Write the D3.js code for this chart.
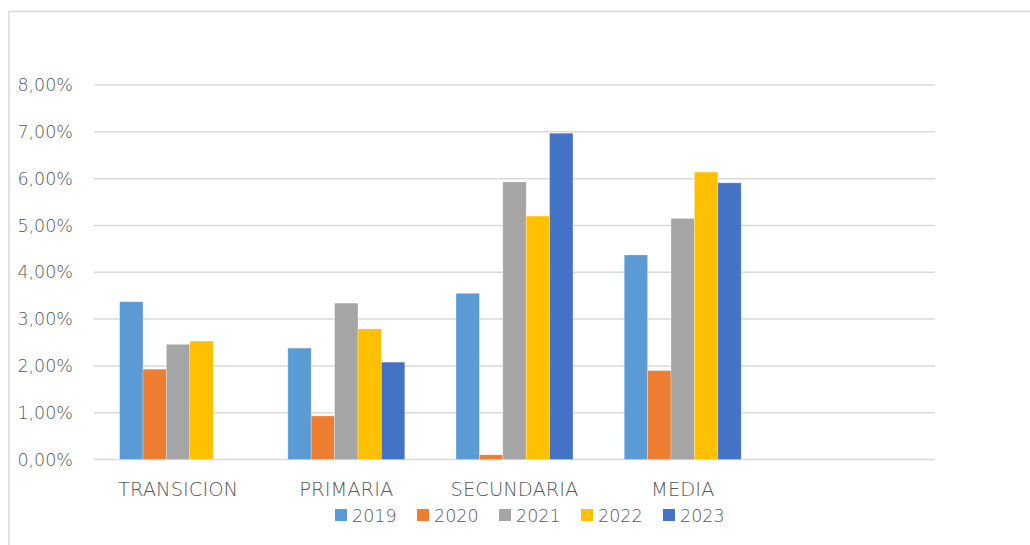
<!DOCTYPE html>
<html>
<head>
<meta charset="utf-8">
<script src="https://cdn.jsdelivr.net/npm/d3@7"></script>
<style>
  html, body { margin: 0; padding: 0; background: #fff; }
  svg { display: block; }
  text { font-family: "DejaVu Sans", sans-serif; font-weight: 200; fill: #595959; }
</style>
</head>
<body>
<svg id="chart" width="1030" height="545"></svg>
<script>
const categories = ["TRANSICION", "PRIMARIA", "SECUNDARIA", "MEDIA", ""];
const seriesNames = ["2019", "2020", "2021", "2022", "2023"];
const seriesColors = ["#5B9BD5", "#ED7D31", "#A5A5A5", "#FFC000", "#4472C4"];
const v2019 = [0.0337, 0.0238, 0.0355, 0.0437, null];
const v2020 = [0.0193, 0.0093, 0.0010, 0.0190, null];
const v2021 = [0.0246, 0.0334, 0.0593, 0.0515, null];
const v2022 = [0.0253, 0.0279, 0.0520, 0.0614, null];
const v2023 = [null, 0.0208, 0.0697, 0.0591, null];
const yTicks = [0, 0.01, 0.02, 0.03, 0.04, 0.05, 0.06, 0.07, 0.08];

const seriesValues = [v2019, v2020, v2021, v2022, v2023];
const svg = d3.select("#chart");

// chart border
svg.append("rect").attr("x", 9).attr("y", 11.5).attr("width", 1030).attr("height", 560)
  .attr("fill", "none").attr("stroke", "#d9d9d9").attr("stroke-width", 1.5);

const x0 = d3.scaleBand().domain(categories).range([94, 935]).padding(0);
const x1 = d3.scaleBand().domain(seriesNames).range([0, x0.bandwidth()])
  .paddingInner(0).paddingOuter(1.095);
const y = d3.scaleLinear().domain([0, 0.08]).range([459.5, 85]);

const fmt = v => d3.format(".2f")(v * 100).replace(".", ",") + "%";

// gridlines
svg.append("g").selectAll("line").data(yTicks).join("line")
  .attr("x1", 94).attr("x2", 935)
  .attr("y1", d => y(d)).attr("y2", d => y(d))
  .attr("stroke", "#d9d9d9").attr("stroke-width", 1.5);

// y axis labels
const yAxis = svg.append("g").attr("transform", "translate(80,0)")
  .call(d3.axisLeft(y).tickValues(yTicks).tickFormat(fmt).tickSize(0).tickPadding(0));
yAxis.select(".domain").remove();
yAxis.selectAll("text").attr("font-size", 17.5).attr("fill", "#595959")
  .attr("font-family", "DejaVu Sans").attr("font-weight", 200)
  .attr("text-anchor", "end").attr("x", -7);

// bars
const data = [];
categories.forEach((c, i) => seriesNames.forEach((s, j) => {
  const v = seriesValues[j][i];
  if (v != null) data.push({ c, s, v, color: seriesColors[j] });
}));
svg.append("g").selectAll("rect").data(data).join("rect")
  .attr("x", d => x0(d.c) + x1(d.s))
  .attr("width", x1.bandwidth())
  .attr("y", d => y(d.v))
  .attr("height", d => y(0) - y(d.v))
  .attr("fill", d => d.color)
  .attr("stroke", "#ffffff").attr("stroke-opacity", 0.35).attr("stroke-width", 0.8);

// category axis
const xAxis = svg.append("g").attr("transform", `translate(0,${y(0)})`)
  .call(d3.axisBottom(x0).tickSize(0).tickPadding(0));
xAxis.select(".domain").remove();
xAxis.selectAll("text").attr("font-size", 19.5).attr("fill", "#595959")
  .attr("font-family", "DejaVu Sans").attr("font-weight", 200)
  .attr("dy", 0).attr("y", 36);

// legend
const legend = svg.append("g");
const lg = legend.selectAll("g").data(seriesNames).join("g")
  .attr("transform", (d, i) => `translate(${335 + i * 82},509)`);
lg.append("rect").attr("width", 12).attr("height", 12)
  .attr("fill", (d, i) => seriesColors[i]);
lg.append("text").attr("x", 17).attr("y", 12.5).attr("font-size", 17.5).text(d => d);
</script>
</body>
</html>
